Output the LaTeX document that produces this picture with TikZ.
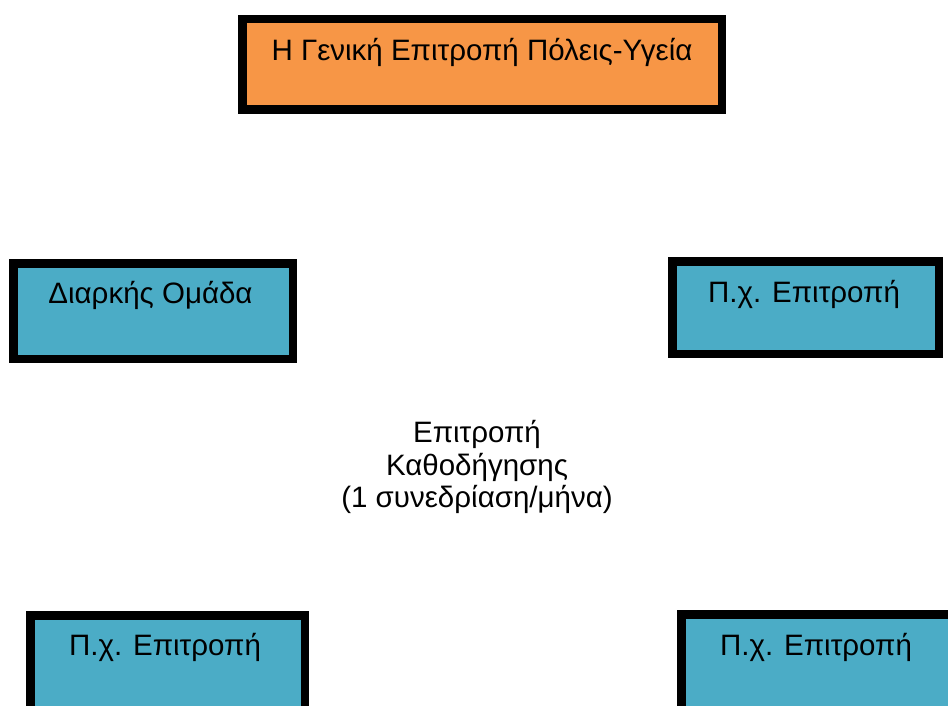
\documentclass[tikz,border=0pt]{standalone}
\usepackage{fontspec}
\setmainfont{Liberation Sans}
\definecolor{boxorange}{HTML}{F79646}
\definecolor{boxblue}{HTML}{4BACC6}
\begin{document}
\begin{tikzpicture}[x=1pt,y=-1pt,
  frame/.style={draw=black,line width=8.5pt,inner sep=0pt,outer sep=0pt},
  label/.style={anchor=base,inner sep=0pt,font=\fontsize{29.5}{30}\selectfont},
  centrelabel/.style={align=center,inner sep=0pt,font=\fontsize{29.5}{32.5}\selectfont}]
\useasboundingbox (0,0) rectangle (948,706);
\begin{scope}
\clip (0,0) rectangle (948,706);
% committee boxes
\node[frame,fill=boxorange,minimum width=479.5pt,minimum height=90.5pt] (general) at (482,64.5) {};
\node[frame,fill=boxblue,minimum width=279.5pt,minimum height=95.5pt] (standing) at (153,311) {};
\node[frame,fill=boxblue,minimum width=266.5pt,minimum height=92.5pt] (topright) at (805.5,307.5) {};
\node[frame,fill=boxblue,minimum width=274.5pt,minimum height=100pt] (bottomleft) at (167.5,665.25) {};
\node[frame,fill=boxblue,minimum width=280pt,minimum height=100pt] (bottomright) at (821.25,664.25) {};
\end{scope}
% box titles
\node[label] (generaltext) at (482,61) {Η Γενική Επιτροπή Πόλεις-Υγεία};
\node[label] (standingtext) at (150.5,303) {Διαρκής Ομάδα};
\node[label] (toprighttext) at (804,302) {Π.χ. Επιτροπή};
\node[label] (bottomlefttext) at (165,655) {Π.χ. Επιτροπή};
\node[label] (bottomrighttext) at (816,655) {Π.χ. Επιτροπή};
% steering committee in the middle
\node[centrelabel] (steering) at (477,467) {Επιτροπή\\Καθοδήγησης\\(1 συνεδρίαση/μήνα)};
\end{tikzpicture}
\end{document}
